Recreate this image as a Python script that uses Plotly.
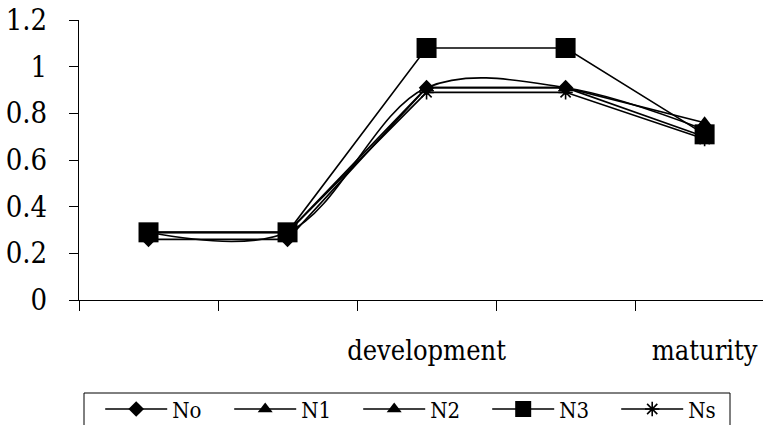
import plotly.graph_objects as go

# Growth stages (only two of them carry a printed label)
stages = [0, 1, 2, 3, 4]
stage_labels = ["", "", "development", "", "maturity"]

# Series values per stage
no_vals = [0.26, 0.26, 0.91, 0.91, 0.70]
n1_vals = [0.29, 0.29, 0.91, 0.91, 0.76]
n2_vals = [0.29, 0.29, 0.91, 0.91, 0.73]
n3_vals = [0.29, 0.29, 1.08, 1.08, 0.71]
ns_vals = [0.29, 0.29, 0.89, 0.89, 0.69]

y_ticks = [0, 0.2, 0.4, 0.6, 0.8, 1, 1.2]
y_tick_text = ["0", "0.2", "0.4", "0.6", "0.8", "1", "1.2"]

FONT = "DejaVu Serif Condensed"

series = [
    ("No", no_vals, dict(symbol="diamond", size=12), "linear"),
    ("N1", n1_vals, dict(symbol="triangle-up", size=13), "linear"),
    ("N2", n2_vals, dict(symbol="triangle-up", size=13), "spline"),
    ("N3", n3_vals, dict(symbol="square", size=20), "linear"),
    ("Ns", ns_vals, dict(symbol="asterisk-open", size=12,
                         line=dict(color="black", width=1.6)), "linear"),
]

fig = go.Figure()
for name, vals, marker, shape in series:
    m = dict(color="black")
    m.update(marker)
    fig.add_trace(go.Scatter(
        x=stages, y=vals, name=name, mode="lines+markers",
        line=dict(color="black", width=1.6, shape=shape, smoothing=1.0),
        marker=m,
    ))

# Legend frame, running off the bottom edge of the page
fig.add_shape(type="rect", xref="paper", yref="paper",
              x0=5 / 684, x1=651 / 684, y0=-0.6, y1=-93 / 280,
              line=dict(color="black", width=1), fillcolor="rgba(0,0,0,0)",
              layer="above")

fig.update_layout(
    width=763, height=425,
    margin=dict(l=79, r=0, t=20, b=125, autoexpand=False),
    paper_bgcolor="white", plot_bgcolor="white",
    font=dict(family=FONT, color="black", size=24),
    showlegend=True,
    legend=dict(
        orientation="h", x=0.031, xanchor="left", y=-0.315, yanchor="top",
        borderwidth=0, bgcolor="rgba(0,0,0,0)",
        font=dict(family=FONT, size=22, color="black"),
        itemwidth=62, entrywidth=52, entrywidthmode="pixels",
        traceorder="normal",
    ),
    xaxis=dict(
        range=[-0.5, 4.42], tickmode="array", tickvals=stages,
        ticktext=stage_labels, ticks="", showgrid=False, zeroline=False,
        showline=True, linecolor="black", linewidth=1,
        ticklabelstandoff=27, ticklabeloverflow="allow",
        tickfont=dict(family=FONT, size=27, color="black"),
        minor=dict(tickmode="array", tickvals=[-0.5, 0.5, 1.5, 2.5, 3.5],
                   ticks="outside", ticklen=10, tickcolor="black", tickwidth=1,
                   showgrid=False),
    ),
    yaxis=dict(
        range=[0, 1.2], tickmode="array", tickvals=y_ticks,
        ticktext=y_tick_text, ticks="outside", ticklen=9,
        tickcolor="black", showgrid=False, zeroline=False,
        showline=True, linecolor="black", linewidth=1,
        ticklabelstandoff=16,
        tickfont=dict(family=FONT, size=29, color="black"),
    ),
)

fig.write_html("out.html")
